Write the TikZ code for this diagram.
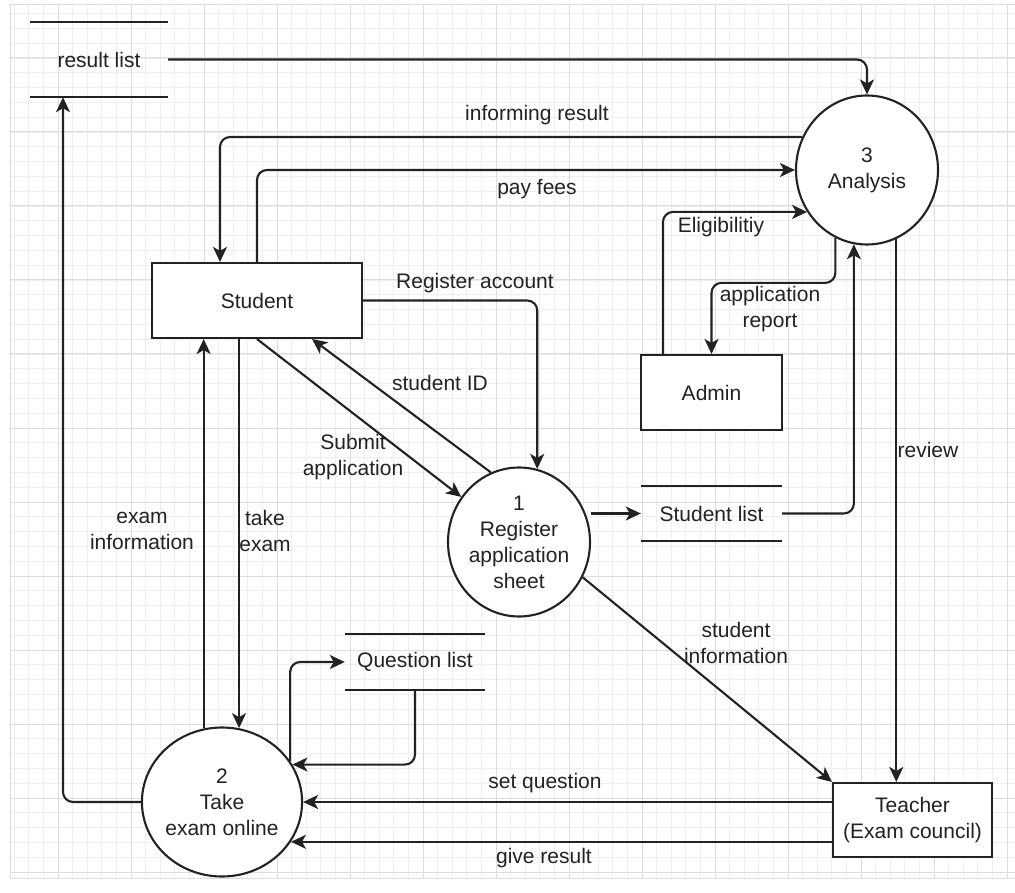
\documentclass[tikz,border=0pt]{standalone}
\usepackage{fontspec}
\setmainfont{Liberation Sans}
\usetikzlibrary{arrows.meta,calc,shapes.geometric}

\definecolor{ink}{HTML}{222222}
\definecolor{gridminor}{HTML}{EEEEEE}
\definecolor{gridmajor}{HTML}{DDDDDD}

\begin{document}
\begin{tikzpicture}[x=1pt,y=-1pt,
  every node/.style={font=\fontsize{21}{26}\selectfont, text=ink},
  flow/.style={draw=ink, line width=2.1pt, rounded corners=10pt,
    -{Stealth[length=15pt,width=14pt,inset=4pt]}},
  entity/.style={draw=ink, line width=2.1pt, fill=white, rectangle,
    inner sep=0pt, align=center},
  process/.style={draw=ink, line width=2.1pt, fill=white, ellipse,
    inner sep=0pt, minimum width=142pt, minimum height=149pt, align=center},
  storetext/.style={inner sep=0pt},
  storeline/.style={draw=ink, line width=2.1pt},
  minorline/.style={draw=gridminor, line width=0.8pt},
  majorline/.style={draw=gridmajor, line width=1pt}]

\useasboundingbox (0,0) rectangle (1015,893);

% background grid
\foreach \i in {0,...,68} \draw[minorline] ({14.2+14.6*\i},5) -- ({14.2+14.6*\i},878);
\foreach \j in {0,...,58} \draw[minorline] (10,{13.6+14.8*\j}) -- (1015,{13.6+14.8*\j});
\foreach \i in {0,...,13} \draw[majorline] ({58+73*\i},5) -- ({58+73*\i},878);
\foreach \j in {0,...,11} \draw[majorline] (10,{58+74*\j}) -- (1015,{58+74*\j});
\draw[majorline] (10,5) -- (10,878) (10,5) -- (1015,5) (10,878) -- (1015,878);

% external entities
\node[entity, minimum width=210pt, minimum height=75pt] (st) at (257,300.5) {Student};
\node[entity, minimum width=141pt, minimum height=75pt] (ad) at (711.5,392.5) {Admin};
\node[entity, minimum width=159pt, minimum height=74pt] (te) at (912.5,820) {Teacher\\(Exam council)};

% processes
\node[process] (an) at (867,170) {3\\Analysis};
\node[process] (c1) at (519,542) {1\\Register\\application\\sheet};
\node[process] (c2) at (222,802) {2\\Take\\exam online};

% data stores
\node[storetext, minimum width=138pt, minimum height=75pt] (rl) at (99,59.5) {result list};
\node[storetext, minimum width=141pt, minimum height=55pt] (sl) at (711.5,513.5) {Student list};
\node[storetext, minimum width=140pt, minimum height=56pt] (ql) at (415,662) {Question list};
\draw[storeline] (rl.north west) -- (rl.north east) (rl.south west) -- (rl.south east);
\draw[storeline] (sl.north west) -- (sl.north east) (sl.south west) -- (sl.south east);
\draw[storeline] (ql.north west) -- (ql.north east) (ql.south west) -- (ql.south east);

% data flows
\draw[flow] (rl.east) -| (an.north);
\draw[flow] (an.153) -| ([xshift=-37pt]st.north);
\draw[flow] (st.north) |- (an.west);
\draw[flow] (st.east) -| (c1.76);
\draw[flow] (c1.112) -- ([xshift=55pt]st.south);
\draw[flow] (st.south) -- (c1.142);
\draw[flow] (c1.east |- sl.west) -- (sl.west);
\draw[flow] (sl.east) -| (an.260);
\draw[flow] (an.245) -- ++(0,45) -| (ad.north);
\draw[flow] ([xshift=-48.5pt]ad.north) |- (an.215);
\draw[flow] (an.293) -- (an.293 |- te.north);
\draw[flow] (c1.331) -- (te.north west);
\draw[flow] (te.west |- c2.east) -- (c2.east);
\draw[flow] (te.west |- c2.330) -- (c2.330);
\draw[flow] (c2.west) -| ([xshift=-36pt]rl.south);
\draw[flow] (c2.104) -- (c2.104 |- st.south);
\draw[flow] (c2.77 |- st.south) -- (c2.77);
\draw[flow] (c2.31) |- (ql.west);
\draw[flow] (ql.south) |- (c2.28);

% flow labels
\node (lblinform) at (537,115) {informing result};
\node (lblfees) at (537,189) {pay fees};
\node (lblreg) at (475,283) {Register account};
\node (lblsid) at (440,383) {student ID};
\node[align=center] (lblsubmit) at (353,457) {Submit\\application};
\node (lblelig) at (721,227) {Eligibilitiy};
\node[align=center] (lblreport) at (770,309) {application\\report};
\node (lblreview) at (928,450) {review};
\node[align=center] (lblsinfo) at (736,643) {student\\information};
\node (lblsetq) at (545,783) {set question};
\node (lblgive) at (544,858) {give result};
\node[align=center] (lblexaminfo) at (142,531) {exam\\information};
\node[align=center] (lbltake) at (265,531) {take\\exam};
\end{tikzpicture}
\end{document}
